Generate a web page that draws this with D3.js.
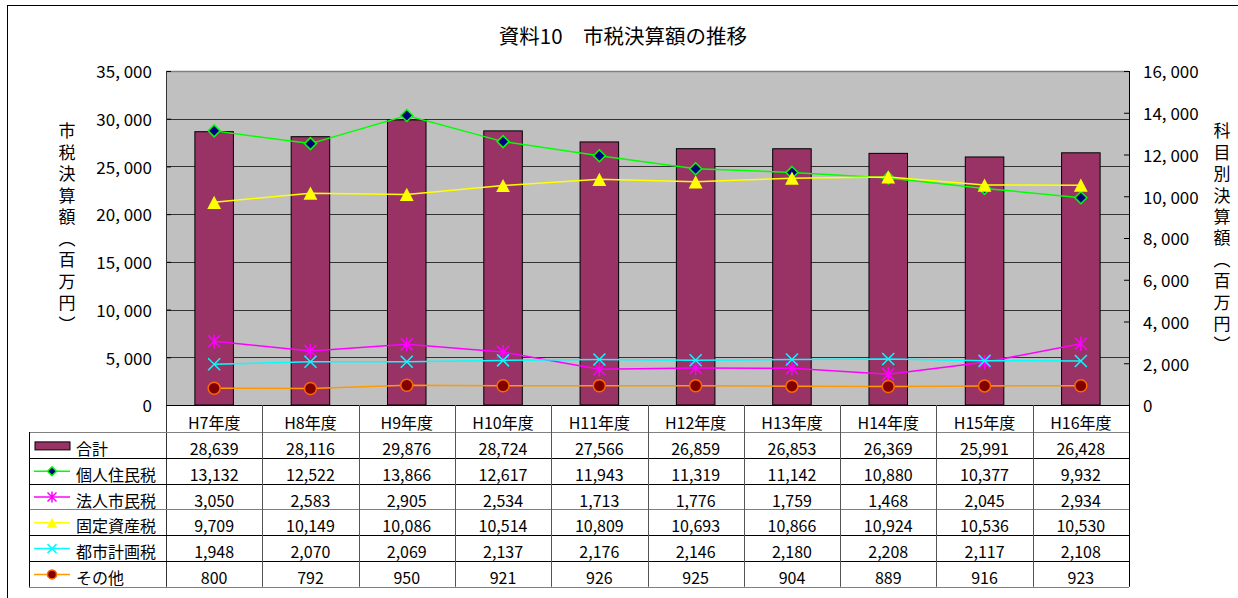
<!DOCTYPE html>
<html>
<head>
<meta charset="utf-8">
<script src="https://cdn.jsdelivr.net/npm/d3@7"></script>
<style>
  body { margin: 0; background: #fff; }
  text { font-family: 'Noto Sans CJK JP', sans-serif; fill: #000; }
</style>
</head>
<body>
<svg id="chart"></svg>
<script>
const categories = ['H7年度', 'H8年度', 'H9年度', 'H10年度', 'H11年度', 'H12年度', 'H13年度', 'H14年度', 'H15年度', 'H16年度'];
const total = [28639, 28116, 29876, 28724, 27566, 26859, 26853, 26369, 25991, 26428];
const kojin = [13132, 12522, 13866, 12617, 11943, 11319, 11142, 10880, 10377, 9932];
const houjin = [3050, 2583, 2905, 2534, 1713, 1776, 1759, 1468, 2045, 2934];
const kotei = [9709, 10149, 10086, 10514, 10809, 10693, 10866, 10924, 10536, 10530];
const toshi = [1948, 2070, 2069, 2137, 2176, 2146, 2180, 2208, 2117, 2108];
const sonota = [800, 792, 950, 921, 926, 925, 904, 889, 916, 923];
const leftTicks = [0, 5000, 10000, 15000, 20000, 25000, 30000, 35000];
const rightTicks = [0, 2000, 4000, 6000, 8000, 10000, 12000, 14000, 16000];
const title = '資料10　市税決算額の推移';
const leftTitle = '市税決算額（百万円）';
const rightTitle = '科目別決算額（百万円）';

const width = 1238;
const height = 598;
const plot = { left: 166, right: 1129, top: 71, bottom: 405 };
const table = { left: 29, header: 27, row: 25.8 };

// line series, drawn in this order (later ones on top)
const series = [
  { name: '個人住民税', values: kojin, color: '#00ff00', marker: 'diamond' },
  { name: '法人市民税', values: houjin, color: '#ff00ff', marker: 'star' },
  { name: '固定資産税', values: kotei, color: '#ffff00', marker: 'triangle' },
  { name: '都市計画税', values: toshi, color: '#00ffff', marker: 'x' },
  { name: 'その他', values: sonota, color: '#ff9900', marker: 'circle' }
];
const rows = [{ name: '合計', values: total, marker: 'bar' }].concat(series);

function markerPath(type, s) {
  if (type === 'diamond') return `M0,${-s}L${s},0L0,${s}L${-s},0Z`;
  if (type === 'triangle') return `M0,${-s * 1.1}L${s * 1.15},${s * 1.1}L${-s * 1.15},${s * 1.1}Z`;
  if (type === 'x') return `M${-s},${-s}L${s},${s}M${s},${-s}L${-s},${s}`;
  if (type === 'star') return `M${-s},${-s}L${s},${s}M${s},${-s}L${-s},${s}M0,${-s * 1.2}L0,${s * 1.2}`;
  return '';
}

function drawMarker(sel, d, s) {
  if (d.marker === 'circle') {
    sel.append('circle').attr('r', s).attr('fill', '#800000')
      .attr('stroke', '#ff6600').attr('stroke-width', 1.5);
  } else if (d.marker === 'diamond') {
    sel.append('path').attr('d', markerPath('diamond', s))
      .attr('fill', '#000080').attr('stroke', d.color).attr('stroke-width', 1.5);
  } else if (d.marker === 'triangle') {
    sel.append('path').attr('d', markerPath('triangle', s)).attr('fill', d.color);
  } else {
    sel.append('path').attr('d', markerPath(d.marker, s))
      .attr('fill', 'none').attr('stroke', d.color).attr('stroke-width', 1.5);
  }
}

const svg = d3.select('#chart')
  .attr('width', width)
  .attr('height', height);

svg.append('rect')
  .attr('x', 7.5).attr('y', 5.5)
  .attr('width', width + 50).attr('height', height + 50)
  .attr('fill', '#fff').attr('stroke', '#000');

const x = d3.scaleBand().domain(categories).range([plot.left, plot.right]);
const yLeft = d3.scaleLinear().domain([0, 35000]).range([plot.bottom, plot.top]);
const yRight = d3.scaleLinear().domain([0, 16000]).range([plot.bottom, plot.top]);
const cx = c => x(c) + x.bandwidth() / 2;
const fmtAxis = d => d3.format(',')(d).replace(',', ', ');

// plot background + gridlines
svg.append('rect')
  .attr('x', plot.left).attr('y', plot.top)
  .attr('width', plot.right - plot.left).attr('height', plot.bottom - plot.top)
  .attr('fill', '#c0c0c0');

svg.append('g').selectAll('line')
  .data(leftTicks.slice(1, -1))
  .join('line')
  .attr('x1', plot.left).attr('x2', plot.right)
  .attr('y1', d => Math.round(yLeft(d)) + 0.5).attr('y2', d => Math.round(yLeft(d)) + 0.5)
  .attr('stroke', '#333');

svg.append('line')
  .attr('x1', plot.left).attr('x2', plot.right)
  .attr('y1', plot.top + 0.5).attr('y2', plot.top + 0.5)
  .attr('stroke', '#808080').attr('stroke-width', 1.5);

// bars
svg.append('g').selectAll('rect')
  .data(categories)
  .join('rect')
  .attr('x', c => x(c) + x.bandwidth() * 0.3)
  .attr('width', x.bandwidth() * 0.4)
  .attr('y', (c, i) => yLeft(total[i]))
  .attr('height', (c, i) => plot.bottom - yLeft(total[i]))
  .attr('fill', '#993366')
  .attr('stroke', '#000');

// axes
const leftAxis = svg.append('g')
  .attr('transform', `translate(${plot.left}, 0)`)
  .call(d3.axisLeft(yLeft).tickValues(leftTicks).tickSize(-5).tickPadding(14).tickFormat(fmtAxis));
const rightAxis = svg.append('g')
  .attr('transform', `translate(${plot.right}, 0)`)
  .call(d3.axisRight(yRight).tickValues(rightTicks).tickSize(-5).tickPadding(14).tickFormat(fmtAxis));
[leftAxis, rightAxis].forEach(g => {
  g.select('.domain').remove();
  g.attr('font-family', null).attr('font-size', null);
  g.selectAll('text').attr('font-size', 17).attr('dy', '0.4em');
  g.selectAll('line').attr('stroke', '#000');
});

// line series
const line = d3.line()
  .x((v, i) => cx(categories[i]))
  .y(v => yRight(v));

series.forEach(s => {
  const g = svg.append('g');
  g.append('path')
    .datum(s.values)
    .attr('fill', 'none')
    .attr('stroke', s.color)
    .attr('stroke-width', 1.5)
    .attr('d', line);
  g.selectAll('g')
    .data(s.values)
    .join('g')
    .attr('transform', (v, i) => `translate(${cx(categories[i])}, ${yRight(v)})`)
    .each(function () { drawMarker(d3.select(this), s, 6); });
});

// axis frame lines
const tableBottom = plot.bottom + table.header + table.row * rows.length;
svg.append('line')
  .attr('x1', plot.left + 0.5).attr('x2', plot.left + 0.5)
  .attr('y1', plot.top).attr('y2', tableBottom)
  .attr('stroke', '#333');
svg.append('line')
  .attr('x1', plot.right + 0.5).attr('x2', plot.right + 0.5)
  .attr('y1', plot.top).attr('y2', tableBottom)
  .attr('stroke', '#000');
svg.append('line')
  .attr('x1', plot.left).attr('x2', plot.right)
  .attr('y1', plot.bottom + 0.5).attr('y2', plot.bottom + 0.5)
  .attr('stroke', '#000');

// data table
const tg = svg.append('g');
const rowY = i => plot.bottom + table.header + table.row * i;
const hLineColors = ['#808080', '#000', '#000', '#808080', '#000', '#000', '#808080'];

tg.selectAll('line.h')
  .data(d3.range(rows.length + 1))
  .join('line')
  .attr('class', 'h')
  .attr('x1', table.left).attr('x2', plot.right)
  .attr('y1', i => Math.round(rowY(i)) + 0.5).attr('y2', i => Math.round(rowY(i)) + 0.5)
  .attr('stroke', i => hLineColors[i]);

tg.selectAll('line.v')
  .data(categories.slice(1))
  .join('line')
  .attr('class', 'v')
  .attr('x1', c => Math.round(x(c)) + 0.5).attr('x2', c => Math.round(x(c)) + 0.5)
  .attr('y1', plot.bottom).attr('y2', tableBottom)
  .attr('stroke', '#555');

tg.append('line')
  .attr('x1', table.left + 0.5).attr('x2', table.left + 0.5)
  .attr('y1', rowY(0)).attr('y2', tableBottom)
  .attr('stroke', '#000');

tg.selectAll('text.cat')
  .data(categories)
  .join('text')
  .attr('class', 'cat')
  .attr('x', cx)
  .attr('y', plot.bottom + table.header / 2 + 3)
  .attr('text-anchor', 'middle')
  .attr('dominant-baseline', 'central')
  .attr('font-size', 16)
  .text(c => c);

rows.forEach((r, ri) => {
  const yc = rowY(ri) + table.row / 2;
  tg.append('g').selectAll('text')
    .data(r.values)
    .join('text')
    .attr('x', (v, i) => cx(categories[i]))
    .attr('y', yc + 3)
    .attr('text-anchor', 'middle')
    .attr('dominant-baseline', 'central')
    .attr('font-size', 16)
    .text(v => d3.format(',')(v));

  const key = tg.append('g').attr('transform', `translate(52, ${yc})`);
  if (r.marker === 'bar') {
    key.append('rect')
      .attr('x', -17).attr('y', -3)
      .attr('width', 35).attr('height', 8)
      .attr('fill', '#993366').attr('stroke', '#000');
  } else {
    key.append('line')
      .attr('x1', -18).attr('x2', 18)
      .attr('y1', 0.5).attr('y2', 0.5)
      .attr('stroke', r.color).attr('stroke-width', 1.5);
    drawMarker(key.append('g').attr('transform', 'translate(0, 0.5)'), r, 4.5);
  }
  tg.append('text')
    .attr('x', 76)
    .attr('y', yc + 3)
    .attr('dominant-baseline', 'central')
    .attr('font-size', 16)
    .text(r.name);
});

// titles
svg.append('text')
  .attr('x', 623).attr('y', 35)
  .attr('text-anchor', 'middle')
  .attr('dominant-baseline', 'central')
  .attr('font-size', 20.5)
  .text(title);

// vertical axis titles
svg.append('text')
  .attr('x', 67).attr('y', 122.5)
  .style('writing-mode', 'vertical-rl')
  .attr('letter-spacing', 4.5)
  .attr('font-size', 17)
  .text(leftTitle);

svg.append('text')
  .attr('x', 1222).attr('y', 122.5)
  .style('writing-mode', 'vertical-rl')
  .attr('letter-spacing', 4.4)
  .attr('font-size', 17)
  .text(rightTitle);
</script>
</body>
</html>
